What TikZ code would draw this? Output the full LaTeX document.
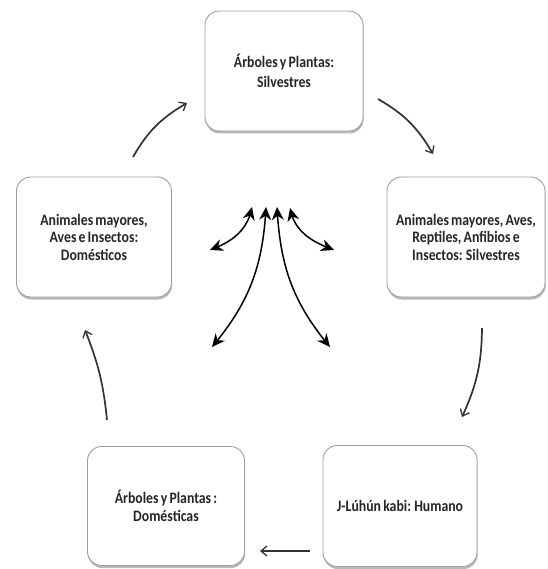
\documentclass[tikz,border=0pt]{standalone}
\usepackage{fontspec}
\setmainfont{Carlito}[FakeStretch=0.86, WordSpace=0.7]
\usetikzlibrary{arrows.meta,shadows,bending}
\begin{document}
\begin{tikzpicture}[x=1pt,y=1pt,
  card/.style 2 args={draw=black!38, line width=0.9pt, rounded corners=14pt,
    fill=white, minimum width=#1, minimum height=#2, align=center, inner sep=2pt,
    font=\fontsize{16}{17.5}\selectfont\bfseries, text=black!85,
    drop shadow={shadow xshift=0.6pt, shadow yshift=-2.5pt, opacity=0.5, fill=black!55}},
  cycle/.style={draw=black!80, line width=1.7pt,
    -{Straight Barb[length=6pt,width=10pt,line width=1.3pt]}},
  hub/.style={line width=1.5pt,
    {Stealth[length=13pt,width=12pt]}-{Stealth[length=13pt,width=12pt]}}
]
\useasboundingbox (0,0) rectangle (547,-569);

% the five groups of the cycle
\node[card={158pt}{120pt}] (top) at (284,-71) {Árboles y Plantas:\\[2pt]Silvestres};
\node[card={158pt}{120pt}] (right) at (466,-237) {Animales mayores, Aves,\\Reptiles, Anfibios e\\Insectos: Silvestres};
\node[card={154pt}{121pt}] (human) at (400,-506) {J-Lúhún kabi: Humano};
\node[card={157pt}{119pt}] (dom) at (166,-506) {Árboles y Plantas :\\Domésticas};
\node[card={155pt}{120pt}] (left) at (94,-237) {Animales mayores,\\Aves e Insectos:\\Domésticos};

% ends of the cycle arrows
\coordinate (a1s) at (133,-157); \coordinate (a1e) at (187,-103);
\coordinate (a2s) at (378,-99);  \coordinate (a2e) at (433,-154);
\coordinate (a3s) at (482,-328); \coordinate (a3e) at (462,-417);
\coordinate (a4s) at (310,-551); \coordinate (a4e) at (260,-551);
\coordinate (a5s) at (107,-420); \coordinate (a5e) at (85,-330);

\draw[cycle] (a1s) to[bend left=15] (a1e);
\draw[cycle] (a2s) to[bend left=15] (a2e);
\draw[cycle] (a3s) to[bend left=12] (a3e);
\draw[cycle] (a4s) -- (a4e);
\draw[cycle] (a5s) to[bend right=8] (a5e);

% central fan of double arrows
\coordinate (h1) at (252,-207); \coordinate (e1) at (210,-250);
\coordinate (h2) at (266,-207); \coordinate (e2) at (212,-347);
\coordinate (h3) at (277,-207); \coordinate (e3) at (330,-347);
\coordinate (h4) at (290,-208); \coordinate (e4) at (334,-250);

\draw[hub] (h1) to[out=-100,in=20] (e1);
\draw[hub] (h2) to[out=-93,in=50] (e2);
\draw[hub] (h3) to[out=-87,in=130] (e3);
\draw[hub] (h4) to[out=-80,in=160] (e4);
\end{tikzpicture}
\end{document}
